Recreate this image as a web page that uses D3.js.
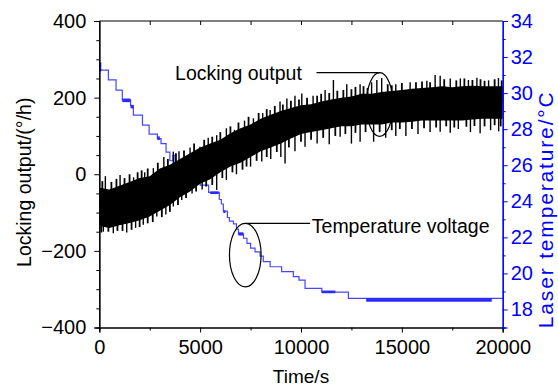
<!DOCTYPE html>
<html>
<head>
<meta charset="utf-8">
<script src="https://cdn.jsdelivr.net/npm/d3@7"></script>
<style>
  body { margin: 0; background: #fff; }
  svg text { font-family: "Liberation Sans", Arial, sans-serif; }
</style>
</head>
<body>
<svg id="chart" width="558" height="387"></svg>
<script>
// locking output: dense noisy band, read as solid core every 500 s
const coreTime = [0,500,1000,1500,2000,2500,3000,3500,4000,4500,5000,5500,6000,6500,7000,7500,8000,8500,9000,9500,
  10000,10500,11000,11500,12000,12500,13000,13500,14000,14500,15000,15500,16000,16500,17000,17500,18000,18500,19000,19500,20000];
const coreUpper = [-35,-40,-30,-20,-10,-5,15,25,40,55,70,80,90,107,120,130,145,155,165,173,
  180,183,190,195,200,203,210,210,215,217,220,223,225,227,230,227,230,231,230,230,230];
const coreLower = [-135,-140,-133,-127,-120,-110,-95,-80,-60,-45,-25,-13,5,20,30,45,60,70,80,93,
  105,110,115,120,125,125,130,130,130,135,135,137,140,140,140,140,140,143,145,145,145];

// big spikes sticking out of the band [time, tip value]
const spikesUp = [[300,-5],[1030,-2],[1700,-8],[2250,5],[2680,16],[3200,45],[3670,59],[3950,60],[4500,70],[4990,72],
  [5400,95],[5820,102],[6300,120],[6700,116],[7200,140],[7640,146],[8100,160],[8470,168],[8960,190],[9300,198],
  [9700,205],[10040,211],[10600,205],[11195,220],[11607,246],[12270,235],[12930,235],[13500,240],[13760,246],[14000,251],
  [14700,235],[15410,240],[16240,244],[16650,259],[16900,257],[17400,250],[17900,250],[18300,246],[18720,252],[19300,245],[19790,251]];
const spikesDown = [[200,-150],[695,-154],[1360,-152],[1800,-140],[2180,-132],[2850,-110],[3300,-105],[3670,-84],[4087,-67],[4600,-50],
  [5100,-40],[5820,-41],[6300,-15],[6800,0],[7500,20],[8055,33],[8500,40],[9000,45],[9210,28],[9700,60],
  [10200,72],[10800,80],[11400,78],[11940,98],[12500,80],[12930,85],[13600,85],[14200,95],[14700,100],[15200,100],
  [15800,105],[16400,110],[16900,111],[17400,108],[17800,118],[18400,110],[18880,107],[19400,115],[19800,112]];
// shorter jags along the band edges
const jagsUp = [[150,-18],[600,-20],[850,-12],[1250,-10],[1500,0],[1900,5],[2100,10],[2400,15],[2900,30],[3400,40],
  [3800,55],[4200,62],[4700,80],[5200,90],[5600,98],[6000,110],[6500,125],[6900,135],[7400,150],[7900,160],
  [8300,170],[8700,178],[9100,182],[9500,192],[9900,195],[10300,200],[10800,205],[11000,210],[11400,212],[11800,218],
  [12100,220],[12500,222],[12700,228],[13100,230],[13300,225],[14300,235],[14500,232],[15000,238],[15700,240],[16000,242],
  [16400,240],[17100,248],[17700,245],[18100,250],[18500,246],[18900,248],[19100,244],[19600,248],[19950,245]];
const jagsDown = [[100,-152],[450,-150],[900,-148],[1150,-148],[1600,-145],[2000,-138],[2400,-128],[2650,-125],[3100,-112],[3500,-98],
  [3900,-80],[4300,-62],[4800,-45],[5300,-32],[5600,-28],[6100,-10],[6600,5],[7100,12],[7300,20],[7800,35],
  [8300,45],[8800,58],[9400,70],[10000,85],[10500,90],[11100,95],[11700,100],[12200,105],[12700,108],[13200,110],
  [13900,110],[14500,115],[14900,118],[15500,118],[16100,120],[16700,122],[17200,125],[17600,122],[18200,124],[18600,126],
  [19100,125],[19600,128],[19900,125]];

// laser temperature, stepped (value holds from each time on)
const tempTime = [0,40,450,830,1140,1550,1690,2140,2470,2880,3060,3310,3500,3650,3750,4000,4300,4600,4850,5000,
  5420,5950,6050,6150,6350,6450,6650,6800,6900,7150,7320,7500,7720,7970,8130,8470,9040,9620,9900,10200,11030,12350,20000];
const tempValue = [31.65,31.28,30.73,30.17,29.62,29.3,28.78,28.23,27.73,27.48,27.2,26.73,26.25,26.55,26.2,26.0,25.75,25.45,25.18,24.9,
  24.5,24.1,23.85,23.45,23.1,22.9,22.75,22.45,22.18,21.95,21.67,21.4,21.2,20.96,20.65,20.37,20.1,19.82,19.63,19.17,18.96,18.62,18.62];
// stretches where the temperature flickers between two levels [t0, t1, lo, hi]
const tempFlicker = [[0,100,31.2,31.7],[1140,1540,29.5,29.7],[1550,1690,29.15,29.35],[2880,3000,27.4,27.6],
  [5500,5920,24.4,24.55],[6150,6250,23.35,23.5],[6900,7140,22.1,22.28],[11030,11700,18.9,19.05],[13230,19460,18.43,18.62]];

const xTicks = [0,5000,10000,15000,20000];
const yTicks = [-400,-200,0,200,400];
const y2Ticks = [18,20,22,24,26,28,30,32,34];

const width = 558, height = 387;
const margin = {top: 21, right: 55.3, bottom: 59.5, left: 99.3};
const blue = "#0000ff", lineBlue = "#4646ff";

const svg = d3.select("#chart");
const x = d3.scaleLinear().domain([0, 20000]).range([margin.left, width - margin.right]);
const y = d3.scaleLinear().domain([-400, 400]).range([height - margin.bottom, margin.top]);
const y2 = d3.scaleLinear().domain([17, 34]).range([height - margin.bottom, margin.top]);

// temperature line
svg.append("path")
    .datum(tempTime.map((t, i) => [t, tempValue[i]]))
    .attr("fill", "none").attr("stroke", lineBlue).attr("stroke-width", 1.2)
    .attr("d", d3.line().x(d => x(d[0])).y(d => y2(d[1])).curve(d3.curveStepAfter));

svg.append("g").selectAll("rect").data(tempFlicker).join("rect")
    .attr("x", d => x(d[0])).attr("width", d => x(d[1]) - x(d[0]))
    .attr("y", d => y2(d[3])).attr("height", d => y2(d[2]) - y2(d[3]))
    .attr("fill", "#2a2aff");

// locking output band + spikes
svg.append("path")
    .datum(coreTime.map((t, i) => [t, coreUpper[i], coreLower[i]]))
    .attr("fill", "#000")
    .attr("d", d3.area().x(d => x(d[0])).y0(d => y(d[2])).y1(d => y(d[1])));

const mid = d3.scaleLinear().domain(coreTime).range(coreTime.map((t, i) => (coreUpper[i] + coreLower[i]) / 2));
function drawSpikes(data, w) {
  svg.append("g").attr("stroke", "#000").attr("stroke-width", w)
    .selectAll("line").data(data).join("line")
      .attr("x1", d => x(d[0])).attr("x2", d => x(d[0]))
      .attr("y1", d => y(mid(d[0]))).attr("y2", d => y(d[1]));
}
drawSpikes(jagsUp.concat(jagsDown), 1.8);
drawSpikes(spikesUp.concat(spikesDown), 1.4);

// frame
svg.append("line").attr("x1", x(0)).attr("x2", x(20000)).attr("y1", y(400)).attr("y2", y(400)).attr("stroke", "#000");

const gx = svg.append("g").attr("transform", `translate(0,${y(-400)})`)
    .call(d3.axisBottom(x).tickValues(xTicks).tickSize(5).tickPadding(7).tickFormat(d3.format("d")));
gx.append("g").call(d3.axisBottom(x).tickValues([2500,7500,12500,17500]).tickSize(3).tickFormat(""));
const gxTop = svg.append("g").attr("transform", `translate(0,${y(400)})`)
    .call(d3.axisBottom(x).tickValues(d3.range(2500, 20000, 2500)).tickSize(4).tickFormat(""));
gxTop.select(".domain").remove();

const gy = svg.append("g").attr("transform", `translate(${x(0)},0)`)
    .call(d3.axisLeft(y).tickValues(yTicks).tickSize(5).tickPadding(8));
gy.append("g").call(d3.axisLeft(y).tickValues(d3.range(-350, 400, 50).filter(v => v % 200 !== 0)).tickSize(3).tickFormat(""));

const gy2 = svg.append("g").attr("transform", `translate(${x(20000)},0)`)
    .call(d3.axisRight(y2).tickValues(y2Ticks).tickSize(5).tickPadding(3));
gy2.append("g").call(d3.axisRight(y2).tickValues(d3.range(17, 35, 2)).tickSize(3).tickFormat(""));
gy2.selectAll("path,line").attr("stroke", blue);
gy2.selectAll("text").attr("fill", blue);

svg.selectAll(".tick text").attr("font-size", "20px").attr("font-family", "Liberation Sans, Arial, sans-serif");
svg.selectAll(".domain").attr("stroke-width", 1.2);

// axis titles
svg.append("text").attr("x", (x(0) + x(20000)) / 2).attr("y", 383).attr("text-anchor", "middle")
    .attr("font-size", "19px").text("Time/s");
svg.append("text").attr("transform", `translate(31,${(y(-400) + y(400)) / 2 + 8}) rotate(-90)`)
    .attr("text-anchor", "middle").attr("font-size", "19.5px").text("Locking output/(°/h)");
svg.append("text").attr("transform", `translate(553,${(y(-400) + y(400)) / 2 + 36}) rotate(-90)`)
    .attr("text-anchor", "middle").attr("font-size", "21px").attr("fill", blue)
    .attr("textLength", 236).attr("lengthAdjust", "spacing").text("Laser temperature/°C");

// annotations
const notes = [
  {label: "Locking output", cx: 13900, cy: 182, rx: 660, ry: 83, lineTo: 10770, textT: 3755, textV: 245},
  {label: "Temperature voltage", cx: 7237, cy: -211, rx: 784, ry: 83, lineTo: 10450, textT: 10535, textV: -154}
];
const ann = svg.append("g").attr("fill", "none").attr("stroke", "#000").attr("stroke-width", 1.2);
notes.forEach(n => {
  ann.append("ellipse").attr("cx", x(n.cx)).attr("cy", y(n.cy))
      .attr("rx", x(n.cx + n.rx) - x(n.cx)).attr("ry", y(n.cy - n.ry) - y(n.cy));
  ann.append("line").attr("x1", x(n.cx)).attr("x2", x(n.lineTo))
      .attr("y1", y(n.cy + n.ry)).attr("y2", y(n.cy + n.ry));
  svg.append("text").attr("x", x(n.textT)).attr("y", y(n.textV)).attr("font-size", "19.5px").text(n.label);
});
</script>
</body>
</html>
